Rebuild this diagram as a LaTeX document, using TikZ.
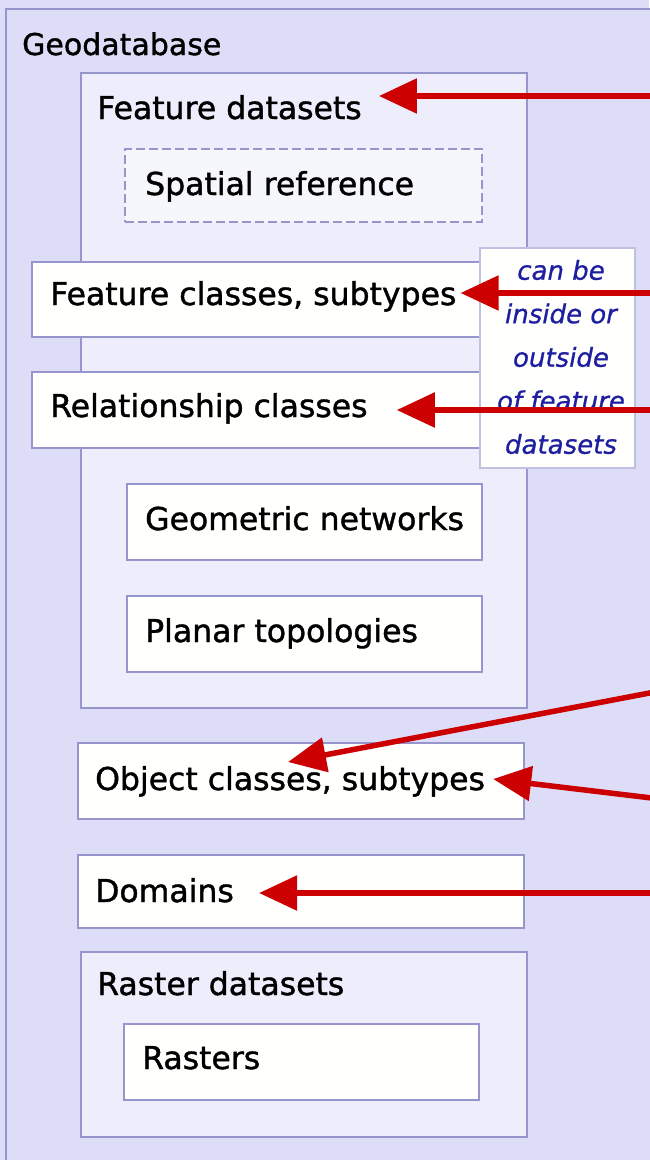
\documentclass[tikz,border=0pt]{standalone}
\usepackage{fontspec}
\setmainfont{DejaVu Sans}
\newfontfamily\lblfont{DejaVu Sans}[FakeBold=1.2]
\newfontfamily\notefont{DejaVu Sans}[FakeBold=0.8]
\usetikzlibrary{arrows.meta,calc}
\definecolor{bgcol}{RGB}{221,221,247}
\definecolor{contcol}{RGB}{237,237,251}
\definecolor{boxcol}{RGB}{255,255,253}
\definecolor{bordercol}{RGB}{150,150,205}
\definecolor{notecol}{RGB}{30,30,160}
\definecolor{arrowred}{RGB}{204,0,0}
\tikzset{
  cont/.style={draw=bordercol, line width=1.5pt, fill=contcol, inner sep=0pt, anchor=north west},
  box/.style={draw=bordercol, line width=1.5pt, fill=boxcol, inner sep=0pt, anchor=north west},
  dbox/.style={box, fill=contcol!50!white, dash pattern=on 9pt off 4pt},
  lbl/.style={anchor=base west, inner sep=0pt, font=\lblfont\fontsize{31.5}{36}\selectfont},
  note/.style={align=center, inner sep=0pt, text=notecol, font=\notefont\fontsize{26}{43.5}\selectfont\itshape},
  redarr/.style={draw=arrowred, line width=5.5pt, -{Triangle[length=38pt,width=34pt]}}
}
\begin{document}
\begin{tikzpicture}[x=1pt,y=-1pt]
\useasboundingbox (0,0) rectangle (649,1160);
\fill[bgcol] (0,0) rectangle (649,1160);
% Geodatabase frame
\node[cont, fill=bgcol, minimum width=700pt, minimum height=1200pt] (geodb) at (5,8) {};
\node[lbl, font=\lblfont\fontsize{30}{35}\selectfont] (geol) at (22,55) {Geodatabase};
% Feature datasets container
\node[cont, minimum width=446pt, minimum height=635pt] (fds) at (80,72) {};
\node[lbl] (fdl) at (97,119) {Feature datasets};
\node[dbox, minimum width=357pt, minimum height=73pt] (sr) at (124,148) {};
\node[lbl] (srl) at (145,195) {Spatial reference};
% Feature classes / relationship classes
\node[box, minimum width=460pt, minimum height=75pt] (fc) at (31,261) {};
\node[lbl] (fcl) at (50,305) {Feature classes, subtypes};
\node[box, minimum width=460pt, minimum height=76pt] (rc) at (31,371) {};
\node[lbl] (rcl) at (50,417) {Relationship classes};
% note
\node[box, draw=bordercol!60, minimum width=155pt, minimum height=220pt] (callout) at (479,247) {};
\node[note] (notel) at (561,357) {can be\\inside or\\outside\\of feature\\datasets};
% networks, topologies
\node[box, minimum width=355pt, minimum height=76pt] (gn) at (126,483) {};
\node[lbl] (gnl) at (145,530) {Geometric networks};
\node[box, minimum width=355pt, minimum height=76pt] (pt) at (126,595) {};
\node[lbl] (ptl) at (145,642) {Planar topologies};
% object classes, domains
\node[box, minimum width=446pt, minimum height=76pt] (oc) at (77,742) {};
\node[lbl] (ocl) at (95,790) {Object classes, subtypes};
\node[box, minimum width=446pt, minimum height=73pt] (dom) at (77,854) {};
\node[lbl] (doml) at (95,902) {Domains};
% raster
\node[cont, minimum width=446pt, minimum height=185pt] (rds) at (80,951) {};
\node[lbl] (rdsl) at (97,995) {Raster datasets};
\node[box, minimum width=355pt, minimum height=76pt] (ras) at (123,1023) {};
\node[lbl] (rasl) at (142,1069) {Rasters};
% arrows
\coordinate (s1) at (660,96);
\coordinate (s2) at (660,293);
\coordinate (s3) at (660,410);
\coordinate (s4) at (660,691);
\coordinate (s5) at (660,799);
\coordinate (s6) at (660,893);
\coordinate (t1) at ([xshift=17pt]fdl.east);
\coordinate (t2) at ([xshift=4pt]fcl.east);
\coordinate (t3) at ([xshift=29pt]rcl.east);
\coordinate (t4) at (288,762);
\coordinate (t5) at ([xshift=8pt]ocl.east);
\coordinate (t6) at ([xshift=25pt]doml.east);
\draw[redarr] (s1) -- (t1 |- s1);
\draw[redarr] (s2) -- (t2 |- s2);
\draw[redarr] (s3) -- (t3 |- s3);
\draw[redarr] (s4) -- (t4);
\draw[redarr] (s5) -- (t5 |- 0,779);
\draw[redarr] (s6) -- (t6 |- s6);
\end{tikzpicture}
\end{document}
